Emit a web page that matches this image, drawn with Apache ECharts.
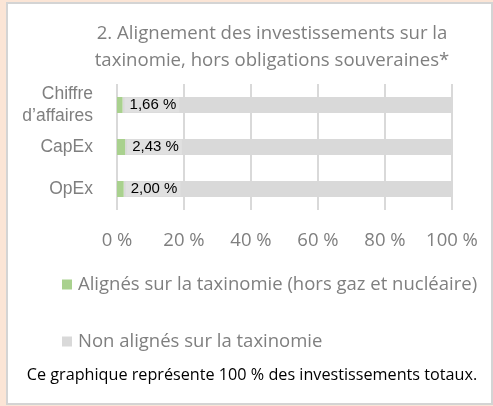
<!DOCTYPE html>
<html>
<head>
<meta charset="utf-8">
<script src="https://cdn.jsdelivr.net/npm/echarts@6/dist/echarts.min.js"></script>
<style>
  html, body { margin: 0; padding: 0; background: #fbe5d6; }
  #chart { width: 493px; height: 406px; }
</style>
</head>
<body>
<div id="chart"></div>
<script>
// Taxonomy alignment of investments, excluding sovereign bonds
const categories = ['Chiffre\nd\u2019affaires', 'CapEx', 'OpEx'];
const alignedValues = [1.66, 2.43, 2.00];
const notAlignedValues = [98.34, 97.57, 98.00];
const seriesNames = ['Alignés sur la taxinomie (hors gaz et nucléaire)', 'Non alignés sur la taxinomie'];
const axisTicks = [0, 20, 40, 60, 80, 100];
const titleLines = ['2. Alignement des investissements sur la', 'taxinomie, hors obligations souveraines*'];
const footnote = 'Ce graphique représente 100 % des investissements totaux.';

const grey = '#7f7f7f';
const textFont = '"Open Sans", sans-serif';
const labelFont = '"Liberation Sans", Arial, sans-serif';

const chart = echarts.init(document.getElementById('chart'), null, { renderer: 'canvas' });

chart.setOption({
  backgroundColor: '#fbe5d6',
  animation: false,
  graphic: [
    {
      type: 'rect', z: -10,
      shape: { x: 7, y: 3, width: 485, height: 401 },
      style: { fill: '#ffffff', stroke: '#d4d4d4', lineWidth: 2 }
    },
    {
      type: 'text', x: 272, y: 47,
      style: {
        text: titleLines.join('\n'), align: 'center', verticalAlign: 'middle',
        fill: grey, font: '18.6px ' + textFont, lineHeight: 27
      }
    },
    {
      type: 'text', x: 252, y: 375,
      style: {
        text: footnote, align: 'center', verticalAlign: 'middle',
        fill: '#000000', font: '16.2px ' + textFont
      }
    }
  ],
  grid: { left: 117, right: 41, top: 84, bottom: 196, containLabel: false },
  legend: {
    orient: 'vertical', left: 57, top: 270, itemGap: 38,
    itemWidth: 10, itemHeight: 10, icon: 'rect',
    textStyle: { color: grey, fontSize: 18.5, fontFamily: textFont, padding: [0, 0, 0, 1] },
    data: seriesNames
  },
  xAxis: {
    type: 'value', min: axisTicks[0], max: axisTicks[axisTicks.length - 1], interval: 20,
    axisLine: { show: false }, axisTick: { show: false },
    axisLabel: { color: grey, fontSize: 18.5, fontFamily: textFont, margin: 21, formatter: v => v + ' %' },
    splitLine: { show: true, lineStyle: { color: '#d9d9d9', width: 2 } }
  },
  yAxis: {
    type: 'category', data: categories, inverse: true,
    axisLine: { show: false }, axisTick: { show: false },
    axisLabel: { color: grey, fontSize: 17.5, fontFamily: labelFont, margin: 24, align: 'right', lineHeight: 22 }
  },
  series: [
    {
      name: seriesNames[0], type: 'bar', stack: 'total', barWidth: 16,
      itemStyle: { color: '#a9d18e' }, data: alignedValues,
      label: {
        show: true, position: 'right', distance: 2,
        color: '#000000', fontSize: 15, fontFamily: labelFont,
        backgroundColor: '#e0e0e0', padding: [0, 3, 0, 5],
        formatter: p => p.value.toFixed(2).replace('.', ',') + ' %'
      },
      z: 3
    },
    {
      name: seriesNames[1], type: 'bar', stack: 'total', barWidth: 16,
      itemStyle: { color: '#d9d9d9' }, data: notAlignedValues
    }
  ]
});
</script>
</body>
</html>
